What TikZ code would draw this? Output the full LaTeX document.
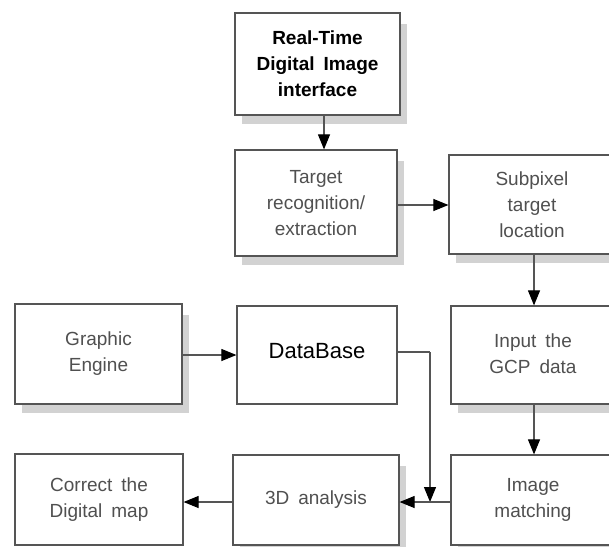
\documentclass[tikz,border=0pt]{standalone}
\usepackage{fontspec}
\setmainfont{Liberation Sans}[WordSpace=1.7]
\usetikzlibrary{arrows.meta,backgrounds,calc}
\definecolor{linec}{HTML}{555555}
\definecolor{textc}{HTML}{505050}
\definecolor{shadowc}{HTML}{D2D2D2}
\tikzset{
  box/.style={draw=linec, line width=1.2pt, fill=white, inner sep=0pt, align=center,
    text=textc, font=\fontsize{19}{26}\selectfont},
  arr/.style={draw=linec, line width=1.1pt, -{Triangle[length=15pt 0,width=12pt 0,color=black,fill=black]}},
  conn/.style={draw=linec, line width=1.1pt},
}
\newcommand{\shadowbox}[1]{\fill[shadowc] ($(#1.north east)+(0,12)$) rectangle ($(#1.south east)+(6,8)$);
  \fill[shadowc] ($(#1.south west)+(8,0)$) rectangle ($(#1.south east)+(6,8)$);}
\begin{document}
\begin{tikzpicture}[x=1pt,y=-1pt]
\useasboundingbox (0,0) rectangle (609,546);
\clip (0,0) rectangle (609,546);
% boxes
\node[box, minimum width=165pt, minimum height=102pt, text=black, font=\bfseries\fontsize{19}{26}\selectfont] (rt) at (317.5,64) {Real-Time\\Digital Image\\interface};
\node[box, minimum width=162pt, minimum height=106pt] (tr) at (316,203) {Target\\recognition/\\extraction};
\node[box, minimum width=166pt, minimum height=99pt] (sp) at (532,204.5) {Subpixel\\target\\location};
\node[box, minimum width=167pt, minimum height=100pt] (ge) at (98.5,354) {Graphic\\Engine};
\node[box, minimum width=160pt, minimum height=98pt, text=black, font=\fontsize{22}{26}\selectfont, text depth=0pt] (db) at (317,355) {\raisebox{8pt}{DataBase}};
\node[box, minimum width=164pt, minimum height=98pt] (gcp) at (533,355) {\raisebox{6pt}{\begin{tabular}{@{}c@{}}Input the\\[0pt]GCP data\end{tabular}}};
\node[box, minimum width=168pt, minimum height=91pt] (cm) at (99,499.5) {Correct the\\Digital map};
\node[box, minimum width=166pt, minimum height=90pt] (ad) at (316,500) {3D analysis};
\node[box, minimum width=164pt, minimum height=90pt] (im) at (533,500) {Image\\matching};
% shadows
\begin{scope}[on background layer]
\shadowbox{rt}
\shadowbox{tr}
\shadowbox{sp}
\shadowbox{ge}
\shadowbox{gcp}
\shadowbox{ad}
\shadowbox{im}
\end{scope}
% helper coordinates
\coordinate (x1) at (324,0);
\coordinate (x2) at (534,0);
\coordinate (y1) at (0,205);
\coordinate (y2) at (0,355);
\coordinate (y3) at (0,352);
\coordinate (y4) at (0,502);
\coordinate (jx) at (430,352);
\coordinate (jy) at (430,502);
% connectors
\draw[arr] (rt.south -| x1) -- (tr.north -| x1);
\draw[arr] (tr.east |- y1) -- (sp.west |- y1);
\draw[arr] (sp.south -| x2) -- (gcp.north -| x2);
\draw[arr] (ge.east |- y2) -- (db.west |- y2);
\draw[arr] (gcp.south -| x2) -- (im.north -| x2);
\draw[conn] (db.east |- y3) -- (jx);
\draw[arr] (jx) -- (jy);
\draw[arr] (im.west |- y4) -- (ad.east |- y4);
\draw[arr] (ad.west |- y4) -- (cm.east |- y4);
\end{tikzpicture}
\end{document}
